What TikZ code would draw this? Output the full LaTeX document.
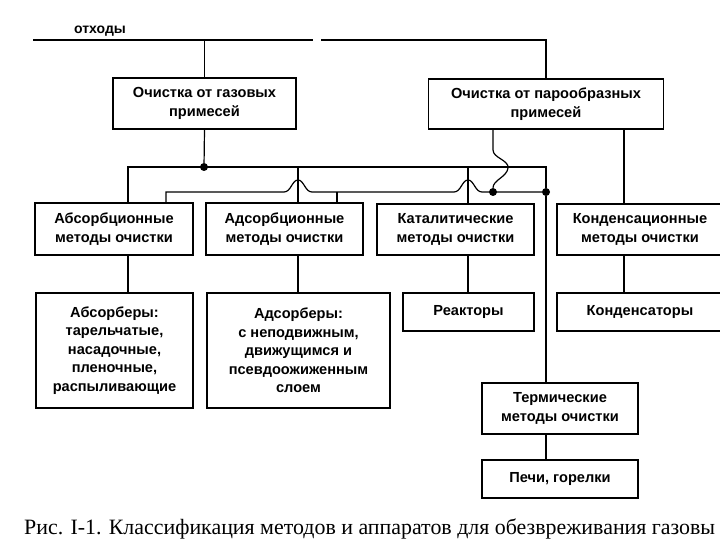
\documentclass[tikz,border=0pt]{standalone}
\usepackage{fontspec}
\setmainfont{Liberation Sans}
\newfontfamily\capfont{Liberation Serif}
\tikzset{
	box/.style={draw, line width=1.4pt, align=center, inner sep=0pt, font=\bfseries\fontsize{14.6}{18.5}\selectfont},
	dot/.style={circle, fill=black, inner sep=0pt, minimum size=8pt},
	wire/.style={line width=1.2pt},
}

\begin{document}
\begin{tikzpicture}[x=1pt, y=-1pt]
			%%%%% START %%%%%
			\useasboundingbox (0,0) rectangle (720,540);
			
			% columns of the taps
			\coordinate (cA) at (128,0);
			\coordinate (cB) at (166,0);
			\coordinate (cC) at (298,0);
			\coordinate (cD) at (337,0);
			\coordinate (cE) at (468,0);
			\coordinate (cF) at (493,0);
			\coordinate (cG) at (546,0);
			\coordinate (cH) at (624,0);
			
			\node[font=\bfseries\fontsize{14}{16}\selectfont, inner sep=0pt] (otx) at (100,31) {отходы};
			\coordinate (in) at (33,40);
			
			\node[box, minimum width=183pt, minimum height=51pt] (gas) at (204.5,103.5) {Очистка от газовых\\примесей};
			\node[box, minimum width=235pt, minimum height=50pt] (vap) at (546,104) {Очистка от парообразных\\примесей};
			
			\node[box, minimum width=158pt, minimum height=52pt] (absm) at (114,229) {Абсорбционные\\методы очистки};
			\node[box, minimum width=157pt, minimum height=52pt] (adsm) at (284.5,229) {Адсорбционные\\методы очистки};
			\node[box, minimum width=157pt, minimum height=51pt] (katm) at (455.5,229.5) {Каталитические\\методы очистки};
			\node[box, minimum width=166pt, minimum height=51pt] (konm) at (640,229.5) {Конденсационные\\методы очистки};
			
			\node[box, minimum width=157pt, minimum height=115pt] (absr) at (114.5,350.5) {Абсорберы:\\тарельчатые,\\насадочные,\\пленочные,\\распыливающие};
			\node[box, minimum width=183pt, minimum height=115pt] (adsr) at (298.5,350.5) {Адсорберы:\\с неподвижным,\\движущимся и\\псевдоожиженным\\слоем};
			\node[box, minimum width=131pt, minimum height=38pt] (reak) at (468.5,312) {Реакторы};
			\node[box, minimum width=166pt, minimum height=38pt] (kond) at (640,312) {Конденсаторы};
			
			\node[box, minimum width=156pt, minimum height=51pt] (term) at (560,408.5) {Термические\\методы очистки};
			\node[box, minimum width=156pt, minimum height=38pt] (pechi) at (560,479) {Печи, горелки};
			
			\node[dot] (jg) at (204,167) {};
			\node[dot] (jv) at (493,192) {};
			\node[dot] (jt) at (546,192) {};
			
			% waste line
			\draw[wire] (in) -- (313,40);
			\draw[wire] (321,40) -| (vap.north -| cG);
			\draw[wire] (gas.north) -- (gas.north |- in);
			
			% gas bus
			\draw[wire] (gas.south) -- (jg);
			\draw[wire] (absm.north -| cA) |- (cG |- jg) -- (jt) -- (term.north -| cG);
			\draw[wire] (cC |- jg) -- (adsm.north -| cC);
			\draw[wire] (cE |- jg) -- (katm.north -| cE);
			
			% vapour bus
			\draw[wire] (absm.north -| cB) |- (284,192) .. controls (291,192) and (292,180) .. (298,180) .. controls (304,180) and (305,192) .. (312,192) -- (454,192) .. controls (461,192) and (462,180) .. (468,180) .. controls (474,180) and (475,192) .. (482,192) -- (jt);
			\draw[wire] (cD |- jt) -- (adsm.north -| cD);
			\draw[wire] (vap.south -| cF) -- (493,150) .. controls (493,158) and (509,160) .. (508,168) .. controls (507,177) and (493,180) .. (jv);
			\draw[wire] (vap.south -| cH) -- (konm.north -| cH);
			
			% down to the apparatus
			\draw[wire] (absm.south -| cA) -- (absr.north -| cA);
			\draw[wire] (adsm.south -| cC) -- (adsr.north -| cC);
			\draw[wire] (katm.south -| cE) -- (reak.north -| cE);
			\draw[wire] (konm.south -| cH) -- (kond.north -| cH);
			\draw[wire] (term.south -| cG) -- (pechi.north -| cG);
			
			\node[anchor=base west, inner sep=0pt, font=\capfont\fontsize{21.9}{25}\selectfont] (cap) at (24,534) {Рис. I-1. Классификация методов и аппаратов для обезвреживания газовы};
			%%%%% END %%%%%
\end{tikzpicture}
\end{document}
